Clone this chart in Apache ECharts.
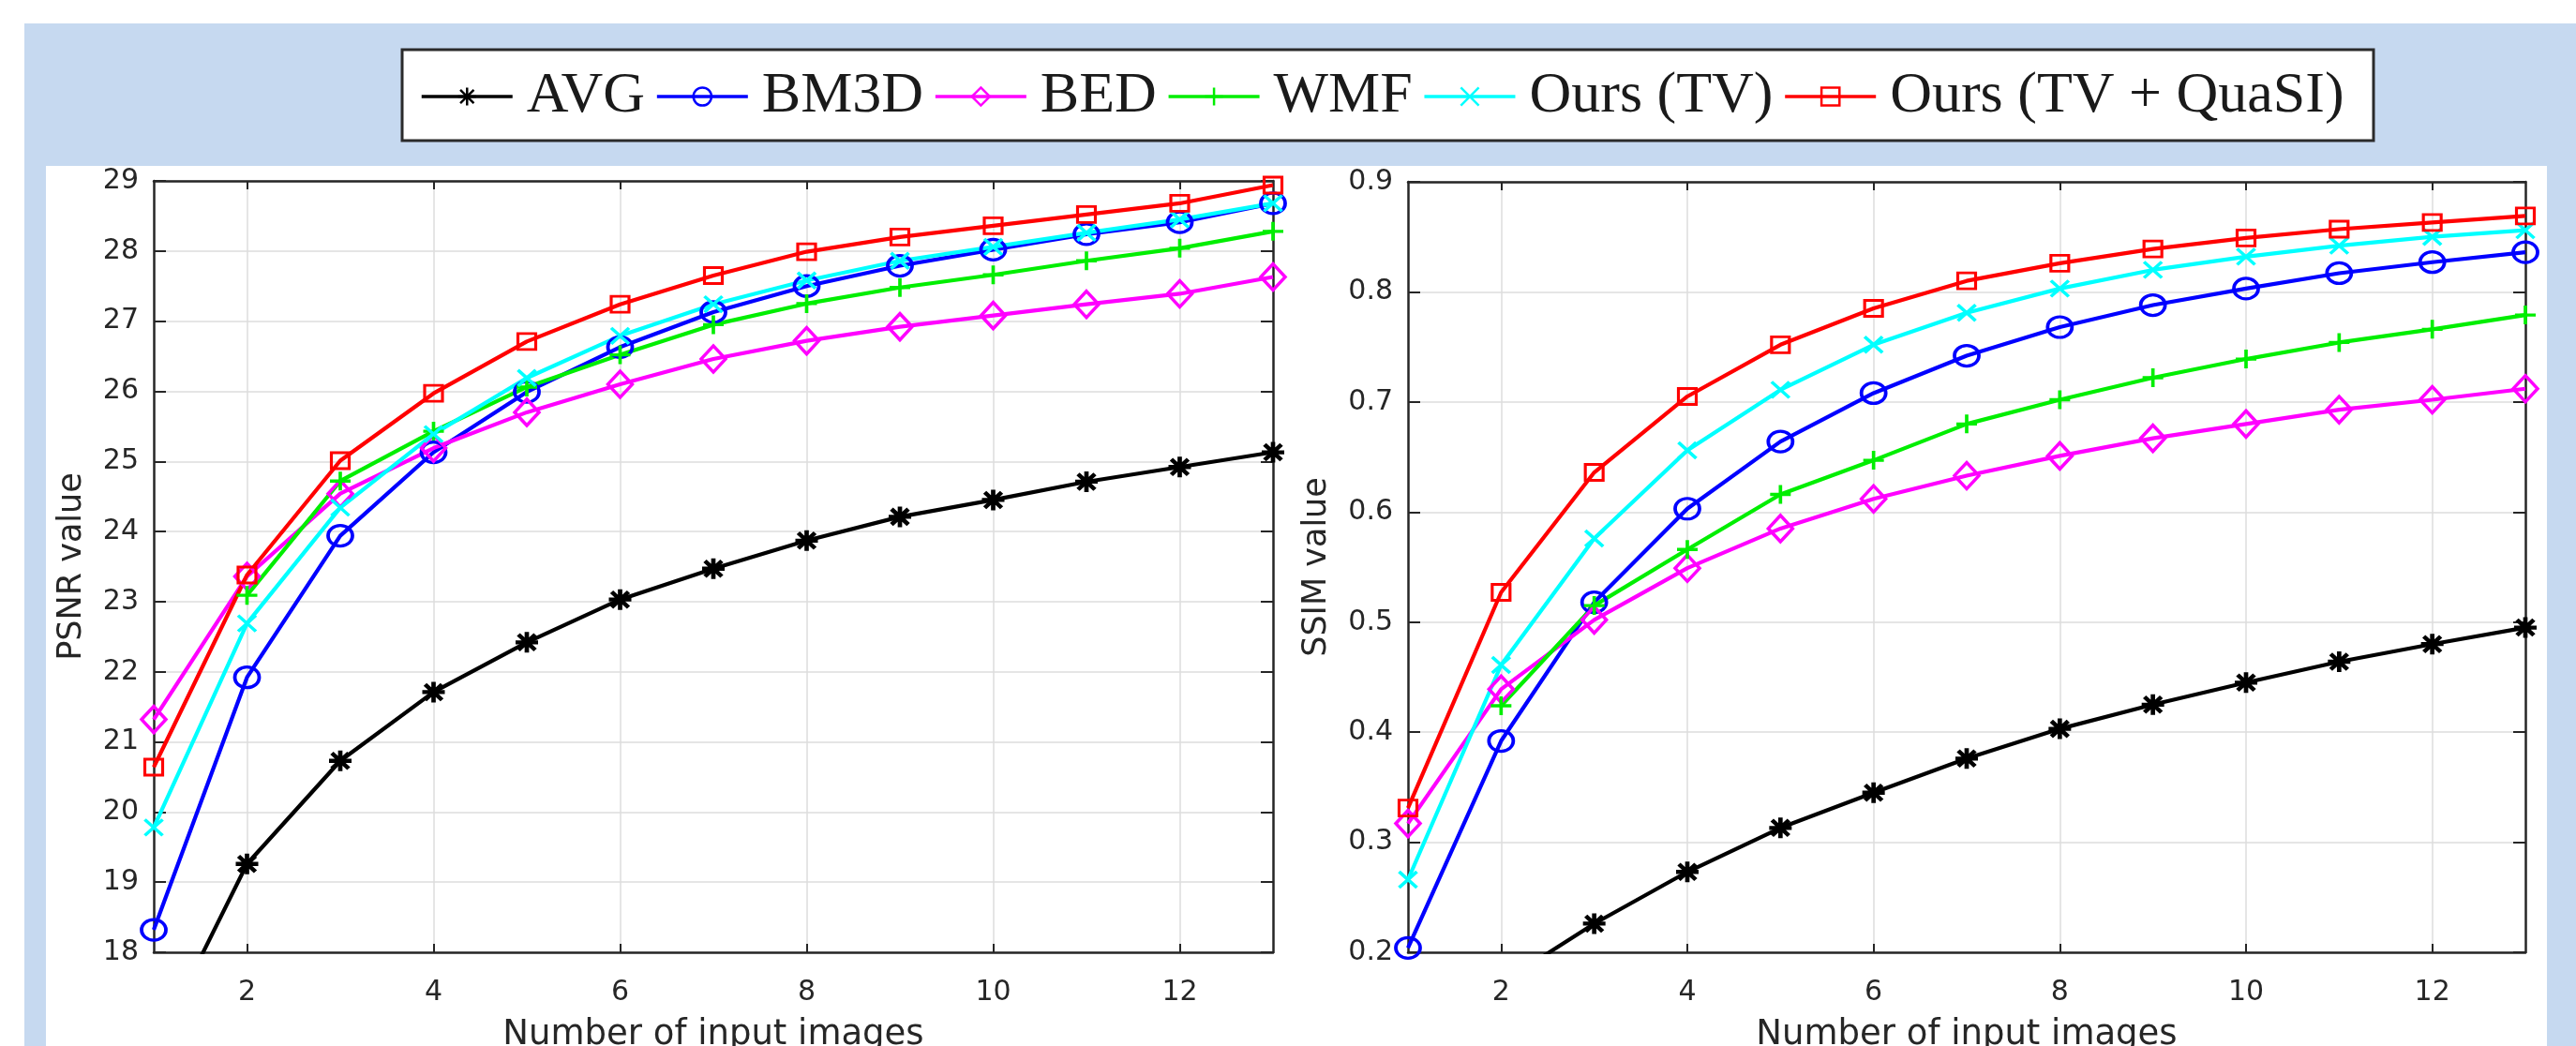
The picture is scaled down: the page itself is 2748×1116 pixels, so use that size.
<!DOCTYPE html>
<html>
<head>
<meta charset="utf-8">
<script src="https://cdn.jsdelivr.net/npm/echarts@6/dist/echarts.min.js"></script>
<style>
  html, body { margin: 0; padding: 0; background: #ffffff; }
  #chart { width: 2748px; height: 1116px; }
</style>
</head>
<body>
<div id="chart"></div>
<script>
// ---------------- data ----------------
const numImages = [1, 2, 3, 4, 5, 6, 7, 8, 9, 10, 11, 12, 13];
const xTicks = [2, 4, 6, 8, 10, 12];
const methods = ['AVG', 'BM3D', 'BED', 'WMF', 'Ours (TV)', 'Ours (TV + QuaSI)'];

const psnrAVG  = [16.58, 19.26, 20.73, 21.71, 22.42, 23.03, 23.47, 23.87, 24.21, 24.45, 24.71, 24.92, 25.13];
const psnrBM3D = [18.32, 21.92, 23.94, 25.13, 25.99, 26.63, 27.13, 27.50, 27.79, 28.02, 28.24, 28.41, 28.68];
const psnrBED  = [21.32, 23.36, 24.54, 25.19, 25.70, 26.10, 26.46, 26.72, 26.92, 27.08, 27.24, 27.39, 27.63];
const psnrWMF  = [null, 23.09, 24.72, 25.43, 26.06, 26.52, 26.95, 27.25, 27.48, 27.66, 27.86, 28.04, 28.28];
const psnrTV   = [19.78, 22.69, 24.34, 25.39, 26.19, 26.79, 27.24, 27.58, 27.86, 28.06, 28.26, 28.45, 28.68];
const psnrTVQ  = [20.64, 23.38, 25.01, 25.97, 26.71, 27.24, 27.65, 27.99, 28.20, 28.36, 28.52, 28.68, 28.94];

const ssimAVG  = [0.110, 0.172, 0.226, 0.273, 0.313, 0.345, 0.376, 0.403, 0.425, 0.445, 0.464, 0.480, 0.495];
const ssimBM3D = [0.204, 0.392, 0.518, 0.603, 0.664, 0.708, 0.742, 0.768, 0.788, 0.803, 0.817, 0.827, 0.836];
const ssimBED  = [0.317, 0.439, 0.502, 0.549, 0.585, 0.612, 0.633, 0.651, 0.667, 0.680, 0.693, 0.702, 0.712];
const ssimWMF  = [null, 0.424, 0.515, 0.566, 0.616, 0.647, 0.680, 0.702, 0.722, 0.739, 0.754, 0.766, 0.779];
const ssimTV   = [0.266, 0.461, 0.576, 0.656, 0.711, 0.752, 0.781, 0.803, 0.820, 0.832, 0.842, 0.850, 0.856];
const ssimTVQ  = [0.331, 0.527, 0.636, 0.705, 0.752, 0.785, 0.810, 0.826, 0.839, 0.849, 0.857, 0.863, 0.869];

const psnrTicks = [18, 29, 1];      // min, max, step
const ssimTicks = [0.2, 0.9, 0.1];  // min, max, step

const psnrSeries = [psnrAVG, psnrBM3D, psnrBED, psnrWMF, psnrTV, psnrTVQ];
const ssimSeries = [ssimAVG, ssimBM3D, ssimBED, ssimWMF, ssimTV, ssimTVQ];

// ---------------- styles ----------------
const STAR = 'path://M0,-10V10M-10,0H10M-7.5,-7.5L7.5,7.5M-7.5,7.5L7.5,-7.5';
const PLUS = 'path://M0,-10V10M-10,0H10';
const CROSS = 'path://M-10,-10L10,10M-10,10L10,-10';
const styles = {
  'AVG':               { color: '#000000', symbol: STAR,      size: [24, 22], bw: 4.5 },
  'BM3D':              { color: '#0000ff', symbol: 'circle',  size: [26, 22], bw: 3.5 },
  'BED':               { color: '#ff00ff', symbol: 'diamond', size: [26, 28], bw: 3.5 },
  'WMF':               { color: '#00ee00', symbol: PLUS,      size: [22, 20], bw: 3.5 },
  'Ours (TV)':         { color: '#00ffff', symbol: CROSS,     size: [19, 17], bw: 3.5 },
  'Ours (TV + QuaSI)': { color: '#ff0000', symbol: 'rect',    size: [19, 17], bw: 3 }
};
const AXIS_COLOR = '#262626';
const GRID_COLOR = '#dcdcdc';
const TICK_FONT = 'DejaVu Sans';

function makeSeries(name, values, axisIdx) {
  const st = styles[name];
  return {
    type: 'line',
    name: name,
    xAxisIndex: axisIdx,
    yAxisIndex: axisIdx,
    data: numImages.map((x, i) => [x, values[i]]),
    symbol: st.symbol,
    symbolSize: st.size,
    showAllSymbol: true,
    clip: true,
    silent: true,
    animation: false,
    emphasis: { disabled: true },
    lineStyle: { color: st.color, width: 4.2 },
    itemStyle: { color: 'none', borderColor: st.color, borderWidth: st.bw },
    z: 3
  };
}

function bottomXAxis(gridIndex) {
  return {
    type: 'value', gridIndex: gridIndex, position: 'bottom',
    min: numImages[0], max: numImages[numImages.length - 1],
    axisLine: { show: true, onZero: false, lineStyle: { color: AXIS_COLOR, width: 2.5 } },
    axisTick: { show: true, inside: true, length: 9, customValues: xTicks, lineStyle: { color: AXIS_COLOR, width: 2 } },
    axisLabel: { show: true, customValues: xTicks, margin: 28, fontSize: 30, fontFamily: TICK_FONT, color: AXIS_COLOR },
    splitLine: { show: true, lineStyle: { color: GRID_COLOR, width: 1.5 } },
    name: 'Number of input images', nameLocation: 'middle', nameGap: 70,
    nameTextStyle: { fontSize: 37, fontFamily: TICK_FONT, color: AXIS_COLOR }
  };
}
function topXAxis(gridIndex) {
  return {
    type: 'value', gridIndex: gridIndex, position: 'top',
    min: numImages[0], max: numImages[numImages.length - 1],
    axisLine: { show: true, onZero: false, lineStyle: { color: AXIS_COLOR, width: 2.5 } },
    axisTick: { show: true, inside: true, length: 9, customValues: xTicks, lineStyle: { color: AXIS_COLOR, width: 2 } },
    axisLabel: { show: false },
    splitLine: { show: false }
  };
}
function leftYAxis(gridIndex, ticks, name, gap, fmt) {
  return {
    type: 'value', gridIndex: gridIndex, position: 'left',
    min: ticks[0], max: ticks[1], interval: ticks[2],
    axisLine: { show: true, onZero: false, lineStyle: { color: AXIS_COLOR, width: 2.5 } },
    axisTick: { show: true, inside: true, length: 13, lineStyle: { color: AXIS_COLOR, width: 2 } },
    axisLabel: { show: true, margin: 16, fontSize: 30, fontFamily: TICK_FONT, color: AXIS_COLOR, formatter: fmt },
    splitLine: { show: true, lineStyle: { color: GRID_COLOR, width: 1.5 } },
    name: name, nameLocation: 'middle', nameGap: gap,
    nameTextStyle: { fontSize: 35, fontFamily: TICK_FONT, color: AXIS_COLOR }
  };
}
function rightYAxis(gridIndex, ticks) {
  return {
    type: 'value', gridIndex: gridIndex, position: 'right',
    min: ticks[0], max: ticks[1], interval: ticks[2],
    axisLine: { show: true, onZero: false, lineStyle: { color: AXIS_COLOR, width: 2.5 } },
    axisTick: { show: true, inside: true, length: 13, lineStyle: { color: AXIS_COLOR, width: 2 } },
    axisLabel: { show: false },
    splitLine: { show: false }
  };
}

const series = [];
methods.forEach((m, i) => series.push(makeSeries(m, psnrSeries[i], 0)));
methods.forEach((m, i) => series.push(makeSeries(m, ssimSeries[i], 2)));

const option = {
  backgroundColor: '#ffffff',
  animation: false,
  graphic: [
    { type: 'rect', z: -30, silent: true, shape: { x: 26, y: 25, width: 2722, height: 1091 }, style: { fill: '#c6d9f0' } },
    { type: 'rect', z: -20, silent: true, shape: { x: 49, y: 177, width: 2668, height: 939 }, style: { fill: '#ffffff' } },
    { type: 'rect', z: -20, silent: true, shape: { x: 429, y: 53, width: 2103, height: 97 }, style: { fill: '#ffffff', stroke: '#2b2b2b', lineWidth: 3 } }
  ],
  legend: {
    data: methods,
    left: 448, top: 72,
    orient: 'horizontal',
    padding: 0,
    itemGap: 11,
    itemWidth: 97,
    itemHeight: 24,
    selectedMode: false,
    lineStyle: { width: 3.5 },
    itemStyle: { borderWidth: 2.5 },
    textStyle: { fontFamily: 'Liberation Serif', fontSize: 62, lineHeight: 62, color: '#1a1a1a', padding: [0, 0, 0, 10] }
  },
  grid: [
    { left: 164, top: 193, right: 1390, bottom: 100, containLabel: false, outerBoundsMode: 'none' },
    { left: 1502, top: 194, right: 54, bottom: 100, containLabel: false, outerBoundsMode: 'none' }
  ],
  xAxis: [bottomXAxis(0), topXAxis(0), bottomXAxis(1), topXAxis(1)],
  yAxis: [
    leftYAxis(0, psnrTicks, 'PSNR value', 70, v => String(Math.round(v))),
    rightYAxis(0, psnrTicks),
    leftYAxis(1, ssimTicks, 'SSIM value', 80, v => v.toFixed(1)),
    rightYAxis(1, ssimTicks)
  ],
  series: series
};

const chart = echarts.init(document.getElementById('chart'), null, { renderer: 'canvas', width: 2748, height: 1116 });
chart.setOption(option);
</script>
</body>
</html>
